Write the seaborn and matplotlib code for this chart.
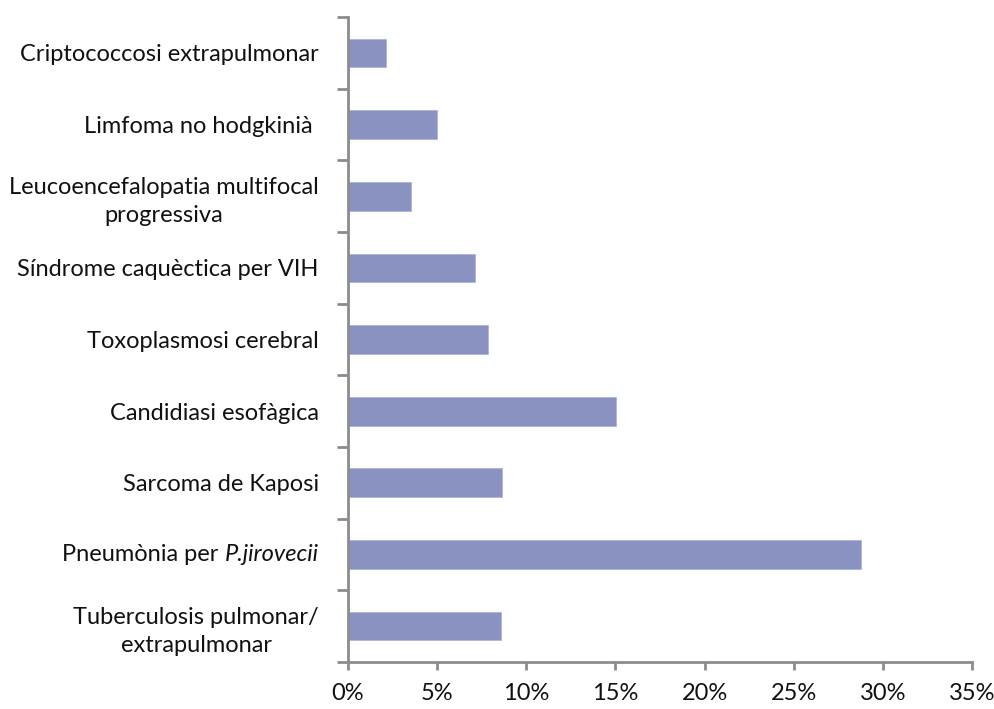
import matplotlib
matplotlib.use("Agg")
import matplotlib.pyplot as plt
import seaborn as sns
import pandas as pd
import numpy as np
from matplotlib.ticker import FuncFormatter
from matplotlib.transforms import offset_copy

categories = [
    "Criptococcosi extrapulmonar",
    "Limfoma no hodgkinià ",
    "Leucoencefalopatia multifocal\nprogressiva",
    "Síndrome caquèctica per VIH",
    "Toxoplasmosi cerebral",
    "Candidiasi esofàgica",
    "Sarcoma de Kaposi",
    "Pneumònia per P.jirovecii",
    "Tuberculosis pulmonar/\nextrapulmonar",
]
values = [2.15, 5.0, 3.55, 7.15, 7.85, 15.05, 8.65, 28.75, 8.6]
xticks = [0, 5, 10, 15, 20, 25, 30, 35]
italic_part = "P.jirovecii"

sns.set_theme(style="white")
plt.rcParams["font.family"] = ["Lato", "DejaVu Sans"]

df = pd.DataFrame({"cat": categories, "val": values})

fig = plt.figure(figsize=(9.94, 7.09), dpi=100)
ax = fig.add_axes([348/994, (709-662)/709, (972-348)/994, (662-17)/709])

sns.barplot(data=df, x="val", y="cat", orient="h", color="#8a92c2",
            saturation=1, width=0.4, ax=ax, edgecolor="#aeb4dc", linewidth=0.6)

ax.set_xlim(0, 35)
ax.set_ylim(len(categories) - 0.5, -0.5)
ax.set_xticks(xticks)
ax.xaxis.set_major_formatter(FuncFormatter(lambda v, p: f"{int(v)}%"))
ax.set_yticks(range(len(categories)))
labels_shown = [c if italic_part not in c else "" for c in categories]
ax.set_yticklabels(labels_shown, multialignment="center", linespacing=1.4)
ax.set_yticks(np.arange(-0.5, len(categories)), minor=True)
ax.set_xlabel("")
ax.set_ylabel("")

for s in ["top", "right"]:
    ax.spines[s].set_visible(False)
for s in ["left", "bottom"]:
    ax.spines[s].set_color("#8c8c8c")
    ax.spines[s].set_linewidth(2)

fs = 17
ax.tick_params(axis="y", which="major", length=0, pad=21, labelsize=fs, labelcolor="#111111")
ax.tick_params(axis="y", which="minor", left=True, length=8, width=2, color="#8c8c8c", direction="out")
ax.tick_params(axis="x", which="major", bottom=True, length=6, width=2, color="#8c8c8c",
               direction="out", pad=9, labelsize=fs, labelcolor="#111111")

# mixed roman/italic label
idx = [i for i, c in enumerate(categories) if italic_part in c][0]
roman_part = categories[idx].replace(italic_part, "")
trans = offset_copy(ax.get_yaxis_transform(), fig=fig, x=-21, y=0, units="points")
t_it = ax.text(0, idx, italic_part, transform=trans, ha="right", va="center",
               fontsize=fs, style="italic", color="#111111")
fig.canvas.draw()
w = t_it.get_window_extent().width * 72 / fig.dpi
trans2 = offset_copy(ax.get_yaxis_transform(), fig=fig, x=-21 - w, y=0, units="points")
ax.text(0, idx, roman_part, transform=trans2, ha="right", va="center",
        fontsize=fs, color="#111111")

fig.savefig("out.png", dpi=100)
